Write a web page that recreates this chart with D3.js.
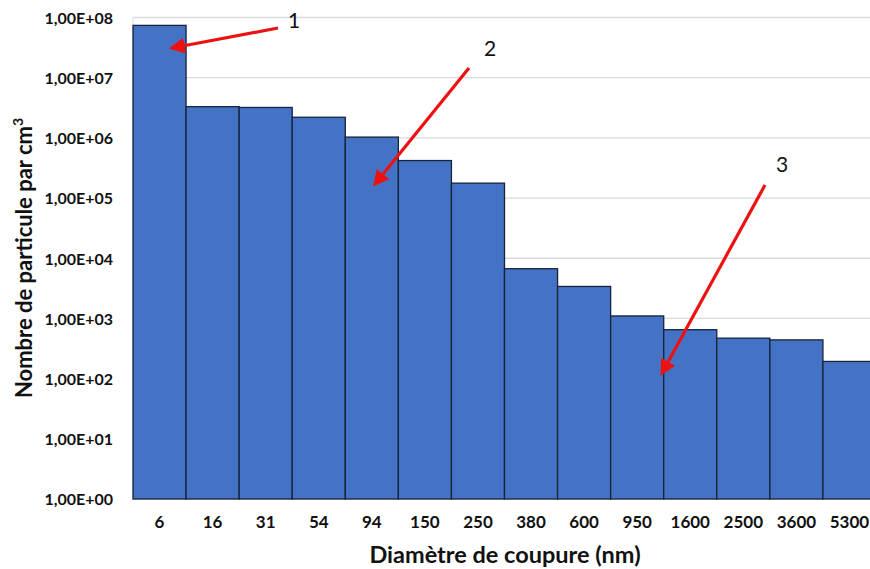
<!DOCTYPE html>
<html><head><meta charset="utf-8">
<script src="https://cdn.jsdelivr.net/npm/d3@7"></script>
<style>body{margin:0;background:#fff}</style>
</head><body>
<script>
const categories = ["6","16","31","54","94","150","250","380","600","950","1600","2500","3600","5300"];
const values = [7.4e7,3.3e6,3.2e6,2.2e6,1.03e6,4.2e5,1.77e5,6.7e3,3.4e3,1.1e3,650,470,440,193];
const yTicks = [1,1e1,1e2,1e3,1e4,1e5,1e6,1e7,1e8];
const yTickLabels = ["1,00E+00","1,00E+01","1,00E+02","1,00E+03","1,00E+04","1,00E+05","1,00E+06","1,00E+07","1,00E+08"];
const annotations = [
  {label:"1", from:[278,28], to:[172,48], text:[294,20]},
  {label:"2", from:[469,68], to:[375,184], text:[490,48]},
  {label:"3", from:[765,185], to:[662,373], text:[782,164]}
];

const W=870,H=569;
const FONT="Lato, 'Open Sans', sans-serif";
const svg=d3.select("body").append("svg").attr("width",W).attr("height",H);
const x=d3.scaleBand().domain(categories).range([133,876]).padding(0);
const y=d3.scaleLog().domain([1,1e8]).range([499,17.5]);

// grid
svg.append("g").selectAll("line").data(yTicks).join("line")
  .attr("x1",133).attr("x2",W).attr("y1",d=>y(d)).attr("y2",d=>y(d))
  .attr("stroke","#d9d9d9").attr("stroke-width",1.3);
svg.append("line").attr("x1",133).attr("x2",133).attr("y1",y(1e8)).attr("y2",y(1))
  .attr("stroke","#d9d9d9");

// bars
svg.append("g").selectAll("rect").data(values).join("rect")
  .attr("x",(d,i)=>x(categories[i])).attr("width",x.bandwidth())
  .attr("y",d=>y(d)).attr("height",d=>y(1)-y(d))
  .attr("fill","#4472C4").attr("stroke","#17233a").attr("stroke-width",1.3);

// y axis
const yAxis=d3.axisLeft(y).tickValues(yTicks).tickFormat((d,i)=>yTickLabels[i]).tickSize(0).tickPadding(0);
const gy=svg.append("g").attr("transform","translate(113,0)").call(yAxis);
gy.select(".domain").remove();
gy.selectAll("text").attr("font-family",FONT).attr("font-weight","bold")
  .attr("font-size","16px").attr("fill","#111").attr("dy","0.36em");

// x axis
const xAxis=d3.axisBottom(x).tickSize(0).tickPadding(0);
const gx=svg.append("g").attr("transform","translate(0,516)").call(xAxis);
gx.select(".domain").remove();
gx.selectAll("text").attr("font-family",FONT).attr("font-weight","bold")
  .attr("font-size","17px").attr("fill","#111").attr("dy","0.71em");

// titles
svg.append("text").attr("x",505).attr("y",563).attr("text-anchor","middle")
  .attr("font-family",FONT).attr("font-weight","bold").attr("font-size","23.5px")
  .attr("fill","#111").text("Diamètre de coupure (nm)");
const yt=svg.append("text").attr("transform","translate(32,258) rotate(-90)").attr("text-anchor","middle")
  .attr("font-family",FONT).attr("font-weight","bold").attr("font-size","22px").attr("fill","#111");
yt.append("tspan").text("Nombre de particule par cm");
yt.append("tspan").attr("font-size","14px").attr("dy","-9").text("3");

// arrows
const defs=svg.append("defs");
defs.append("marker").attr("id","ah").attr("viewBox","0 0 10 10").attr("refX",8).attr("refY",5)
  .attr("markerWidth",5).attr("markerHeight",5).attr("orient","auto")
  .append("path").attr("d","M0,0 L10,5 L0,10 Z").attr("fill","#ee1111");
annotations.forEach(a=>{
  svg.append("line").attr("x1",a.from[0]).attr("y1",a.from[1]).attr("x2",a.to[0]).attr("y2",a.to[1])
    .attr("stroke","#ee1111").attr("stroke-width",3.2).attr("marker-end","url(#ah)");
  svg.append("text").attr("x",a.text[0]).attr("y",a.text[1]).attr("text-anchor","middle").attr("dy","0.36em")
    .attr("font-family",FONT).attr("font-size","21px").attr("fill","#111").text(a.label);
});
</script>
</body></html>
